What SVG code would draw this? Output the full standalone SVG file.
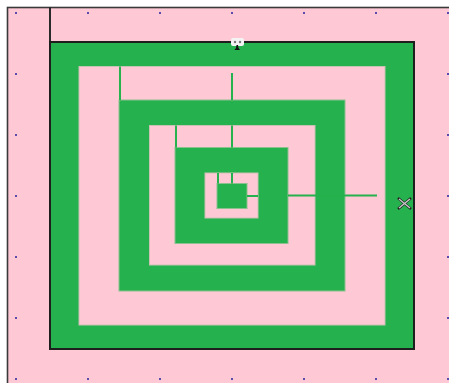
<svg xmlns="http://www.w3.org/2000/svg" width="449" height="383" viewBox="0 0 449 383">
<defs>
<style>
.pk{fill:#fec8d4;stroke:#c9c2b4;stroke-width:1}
.gr{fill:#25b14d;stroke:#8cc08f;stroke-width:1}
.ln{stroke:#25b14d;stroke-width:2;fill:none}
.dot{fill:#5b4bab}
</style>
</defs>
<rect x="0" y="0" width="449" height="383" fill="#ffffff"/>
<g id="frame">
<rect x="7.5" y="7.5" width="460" height="400" fill="#fec8d4" stroke="#3a3a3a" stroke-width="1.6"/>
<line x1="50" y1="7" x2="50" y2="42" stroke="#2a2a2a" stroke-width="2"/>
</g>
<g id="grid">
<rect class="dot" x="15" y="12" width="2" height="2"/><rect class="dot" x="87" y="12" width="2" height="2"/><rect class="dot" x="159" y="12" width="2" height="2"/><rect class="dot" x="231" y="12" width="2" height="2"/><rect class="dot" x="303" y="12" width="2" height="2"/><rect class="dot" x="375" y="12" width="2" height="2"/><rect class="dot" x="447" y="12" width="2" height="2"/>
<rect class="dot" x="15" y="73" width="2" height="2"/><rect class="dot" x="87" y="73" width="2" height="2"/><rect class="dot" x="159" y="73" width="2" height="2"/><rect class="dot" x="303" y="73" width="2" height="2"/><rect class="dot" x="375" y="73" width="2" height="2"/><rect class="dot" x="447" y="73" width="2" height="2"/>
<rect class="dot" x="15" y="134" width="2" height="2"/><rect class="dot" x="87" y="134" width="2" height="2"/><rect class="dot" x="159" y="134" width="2" height="2"/><rect class="dot" x="303" y="134" width="2" height="2"/><rect class="dot" x="375" y="134" width="2" height="2"/><rect class="dot" x="447" y="134" width="2" height="2"/>
<rect class="dot" x="15" y="195" width="2" height="2"/><rect class="dot" x="87" y="195" width="2" height="2"/><rect class="dot" x="159" y="195" width="2" height="2"/><rect class="dot" x="303" y="194" width="2" height="2"/><rect class="dot" x="375" y="194" width="2" height="2"/><rect class="dot" x="447" y="195" width="2" height="2"/>
<rect class="dot" x="15" y="256" width="2" height="2"/><rect class="dot" x="87" y="256" width="2" height="2"/><rect class="dot" x="159" y="256" width="2" height="2"/><rect class="dot" x="231" y="256" width="2" height="2"/><rect class="dot" x="303" y="256" width="2" height="2"/><rect class="dot" x="375" y="256" width="2" height="2"/><rect class="dot" x="447" y="256" width="2" height="2"/>
<rect class="dot" x="15" y="317" width="2" height="2"/><rect class="dot" x="87" y="317" width="2" height="2"/><rect class="dot" x="159" y="317" width="2" height="2"/><rect class="dot" x="231" y="317" width="2" height="2"/><rect class="dot" x="303" y="317" width="2" height="2"/><rect class="dot" x="375" y="317" width="2" height="2"/><rect class="dot" x="447" y="317" width="2" height="2"/>
<rect class="dot" x="15" y="378" width="2" height="2"/><rect class="dot" x="87" y="378" width="2" height="2"/><rect class="dot" x="159" y="378" width="2" height="2"/><rect class="dot" x="231" y="378" width="2" height="2"/><rect class="dot" x="303" y="378" width="2" height="2"/><rect class="dot" x="375" y="378" width="2" height="2"/><rect class="dot" x="447" y="378" width="2" height="2"/>
</g>
<g id="n1"><rect x="50" y="42" width="364" height="307" fill="#25b14d" stroke="#1e1e1e" stroke-width="2"/></g>
<g id="n2"><rect class="pk" x="79" y="66.5" width="306" height="258.5"/></g>
<g id="n3"><rect class="gr" x="119" y="100" width="226" height="191"/></g>
<g id="n4"><rect class="pk" x="149.5" y="125.5" width="165.5" height="139.5"/></g>
<g id="n5"><rect class="gr" x="175" y="147.5" width="113" height="96"/></g>
<g id="n6"><rect class="pk" x="205" y="173" width="53" height="45"/></g>
<g id="n7"><rect class="gr" x="217" y="183.5" width="30" height="25"/></g>
<g id="connectors">
<line class="ln" x1="120" y1="66.5" x2="120" y2="100"/>
<line class="ln" x1="232" y1="73" x2="232" y2="100"/>
<line class="ln" x1="176" y1="125.5" x2="176" y2="147.5"/>
<line class="ln" x1="232" y1="125.5" x2="232" y2="147.5"/>
<line class="ln" x1="218" y1="173" x2="218" y2="183.5"/>
<line class="ln" x1="232" y1="173" x2="232" y2="183.5"/>
<line class="ln" x1="247" y1="196" x2="258" y2="196"/>
<line class="ln" x1="288" y1="195.5" x2="315" y2="195.5"/>
<line class="ln" x1="315" y1="195.5" x2="345" y2="195.5"/>
<line class="ln" x1="345" y1="195.5" x2="377" y2="195.5"/>
</g>
<g id="handle-top">
<rect x="231" y="38" width="13" height="8" rx="2" fill="#f4f4f4"/>
<circle cx="235" cy="42" r="1.2" fill="#777"/>
<circle cx="240" cy="42" r="1.2" fill="#777"/>
<path d="M236.5 45 L238 45 L238.5 48 L240 50 L234.5 50 L236 48 Z" fill="#111"/>
</g>
<g id="handle-right">
<path d="M398 198 L411 209 M411 198 L398 209" stroke="#222" stroke-width="2.4"/>
<path d="M399 199 L410 208 M410 199 L399 208" stroke="#c9c9c9" stroke-width="1.4"/>
</g>
</svg>
